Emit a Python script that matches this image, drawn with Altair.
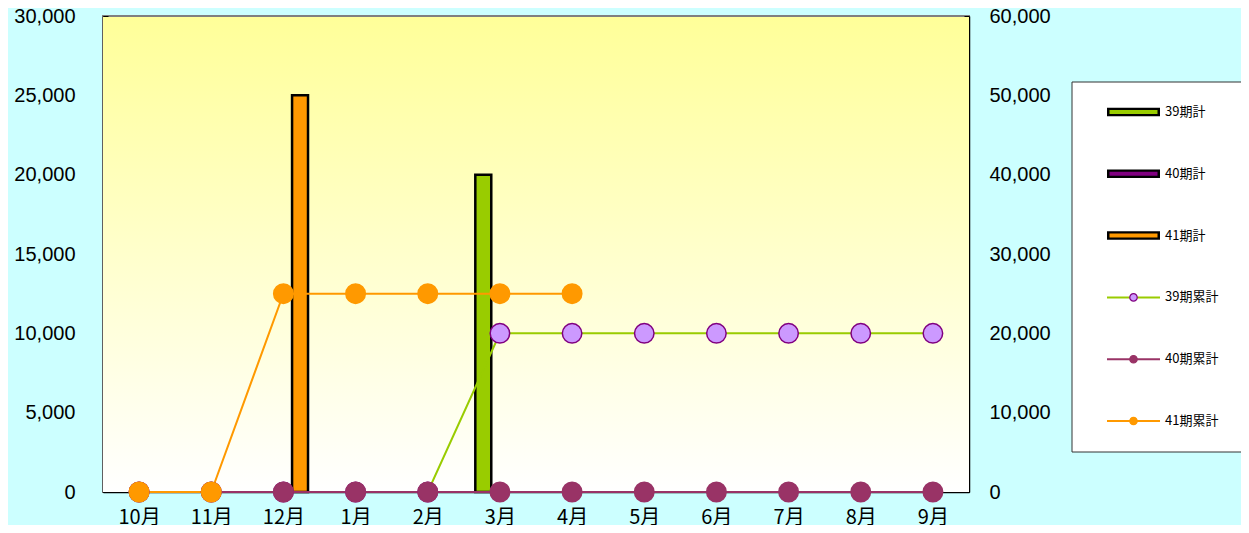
import altair as alt
import pandas as pd

months = ["10月", "11月", "12月", "1月", "2月", "3月", "4月", "5月", "6月", "7月", "8月", "9月"]
bar_names = ["39期計", "40期計", "41期計"]
cum_names = ["39期累計", "40期累計", "41期累計"]

bar39 = [0, 0, 0, 0, 0, 20000, 0, 0, 0, 0, 0, 0]
bar40 = [0, 0, 0, 0, 0, 0, 0, 0, 0, 0, 0, 0]
bar41 = [0, 0, 25000, 0, 0, 0, 0, None, None, None, None, None]

cum39 = [0, 0, 0, 0, 0, 20000, 20000, 20000, 20000, 20000, 20000, 20000]
cum40 = [0, 0, 0, 0, 0, 0, 0, 0, 0, 0, 0, 0]
cum41 = [0, 0, 25000, 25000, 25000, 25000, 25000, None, None, None, None, None]

left_ticks = [0, 5000, 10000, 15000, 20000, 25000, 30000]
right_ticks = [0, 10000, 20000, 30000, 40000, 50000, 60000]

bar_fill = ["#99CC00", "#800080", "#FF9900"]
line_color = ["#99CC00", "#993366", "#FF9900"]
dot_fill = ["#CC99FF", "#993366", "#FF9900"]
dot_stroke = ["#800080", "#993366", "#FF9900"]

bars_df = pd.DataFrame({
    "month": months * 3,
    "series": [n for n in bar_names for _ in months],
    "value": bar39 + bar40 + bar41,
})
cum_df = pd.DataFrame({
    "month": months * 3,
    "series": [n for n in cum_names for _ in months],
    "value": cum39 + cum40 + cum41,
})
all_names = bar_names + cum_names
leg_df = pd.DataFrame({
    "series": all_names,
    "kind": ["bar"] * 3 + ["line"] * 3,
    "main": bar_fill + line_color,
    "fill": bar_fill + dot_fill,
    "edge": ["#000000"] * 3 + dot_stroke,
})

W, H = 866, 476
TOTAL_W, TOTAL_H = 1233, 517
color_scale = alt.Scale(domain=all_names, range=bar_fill + line_color)

x_enc = alt.X(
    "month:N",
    sort=months,
    scale=alt.Scale(domain=months, paddingInner=0, paddingOuter=0),
    axis=alt.Axis(
        title=None,
        labelAngle=0,
        labelFont="Noto Sans CJK JP",
        labelFontSize=20,
        labelColor="#000000",
        labelPadding=20,
        labelBaseline="top",
        tickBand="extent",
        tickSize=alt.ExprRef(expr="-5"),
        tickColor="#000000",
        domainColor="#000000",
        domainWidth=1.5,
    ),
)

bg = alt.Chart(pd.DataFrame({"k": [0]})).mark_rect(
    fill=alt.LinearGradient(
        gradient="linear",
        stops=[alt.GradientStop(color="#FFFF99", offset=0),
               alt.GradientStop(color="#FFFFFF", offset=1)],
        x1=0, x2=0, y1=0, y2=1,
    )
).encode(x=alt.value(0), x2=alt.value(W), y=alt.value(1), y2=alt.value(H))

bars = alt.Chart(bars_df).transform_filter("datum.value > 0").mark_bar(
    stroke="#000000", strokeWidth=2.5
).encode(
    x=x_enc,
    xOffset=alt.XOffset("series:N", scale=alt.Scale(domain=bar_names, paddingInner=0.04, paddingOuter=0.69)),
    y=alt.Y("value:Q", scale=alt.Scale(domain=[0, 30000]),
            axis=alt.Axis(orient="left", title=None, values=left_ticks, format=",.0f", grid=False,
                          labelFont="Liberation Sans", labelFontSize=20, labelColor="#000000",
                          labelPadding=33, tickSize=alt.ExprRef(expr="-5"), tickColor="#000000",
                          domainColor="#000000", domainWidth=1.5)),
    color=alt.Color("series:N", scale=color_scale, legend=None),
)

y_right = alt.Y("value:Q", scale=alt.Scale(domain=[0, 60000]),
                axis=alt.Axis(orient="right", title=None, values=right_ticks, format=",.0f", grid=False,
                              labelFont="Liberation Sans", labelFontSize=20, labelColor="#000000",
                              labelPadding=25, tickSize=alt.ExprRef(expr="-5"), tickColor="#000000",
                              domainColor="#000000", domainWidth=1.5))

lines = alt.Chart(cum_df).mark_line(strokeWidth=2).encode(
    x=x_enc,
    y=y_right,
    color=alt.Color("series:N", scale=color_scale, legend=None),
)

points = alt.Chart(cum_df).mark_circle(size=380, opacity=1, strokeWidth=1.5).encode(
    x=x_enc,
    y=y_right,
    fill=alt.Fill("series:N", scale=alt.Scale(domain=cum_names, range=dot_fill), legend=None),
    stroke=alt.Stroke("series:N", scale=alt.Scale(domain=cum_names, range=dot_stroke), legend=None),
)

right = alt.layer(lines, points)

# ---- legend panel (drawn as marks, rows placed by a point scale) ----
ly = alt.Y("series:N", sort=all_names,
           scale=alt.Scale(type="point", domain=all_names, range=[96, 405], padding=0),
           axis=None)

leg_box = alt.Chart(pd.DataFrame({"k": [0]})).mark_rect(
    fill="#FFFFFF", stroke="#333333", strokeWidth=1
).encode(x=alt.value(969), x2=alt.value(1170), y=alt.value(66), y2=alt.value(436))

leg_bar_outer = alt.Chart(leg_df).transform_filter("datum.kind == 'bar'").mark_rule(
    color="#000000", strokeWidth=8.5
).encode(x=alt.value(1004), x2=alt.value(1057), y=ly)

leg_bar_inner = alt.Chart(leg_df).transform_filter("datum.kind == 'bar'").mark_rule(
    strokeWidth=4
).encode(x=alt.value(1006.5), x2=alt.value(1054.5), y=ly, stroke=alt.Stroke("main:N", scale=None))

leg_line = alt.Chart(leg_df).transform_filter("datum.kind == 'line'").mark_rule(
    strokeWidth=2
).encode(x=alt.value(1004), x2=alt.value(1057), y=ly, stroke=alt.Stroke("main:N", scale=None))

leg_dot = alt.Chart(leg_df).transform_filter("datum.kind == 'line'").mark_circle(
    size=55, opacity=1, strokeWidth=1.2
).encode(x=alt.value(1030.5), y=ly,
         fill=alt.Fill("fill:N", scale=None), stroke=alt.Stroke("edge:N", scale=None))

leg_text = alt.Chart(leg_df).mark_text(
    align="left", baseline="middle", font="Noto Sans CJK JP", fontSize=13, color="#000000"
).encode(x=alt.value(1062), y=ly, text="series:N")

legend_layer = alt.layer(leg_box, leg_bar_outer, leg_bar_inner, leg_line, leg_dot, leg_text)

chart = alt.layer(bg, bars, right, legend_layer).resolve_scale(y="independent").properties(
    width=W,
    height=H,
    padding={"left": 95, "top": 8, "right": TOTAL_W - 95 - W, "bottom": TOTAL_H - 8 - H},
    autosize=alt.AutoSizeParams(type="none"),
    background="#CCFFFF",
).configure_view(stroke="#808080", strokeWidth=2)

chart.save("out.html", embed_options={"renderer": "svg", "actions": False})
